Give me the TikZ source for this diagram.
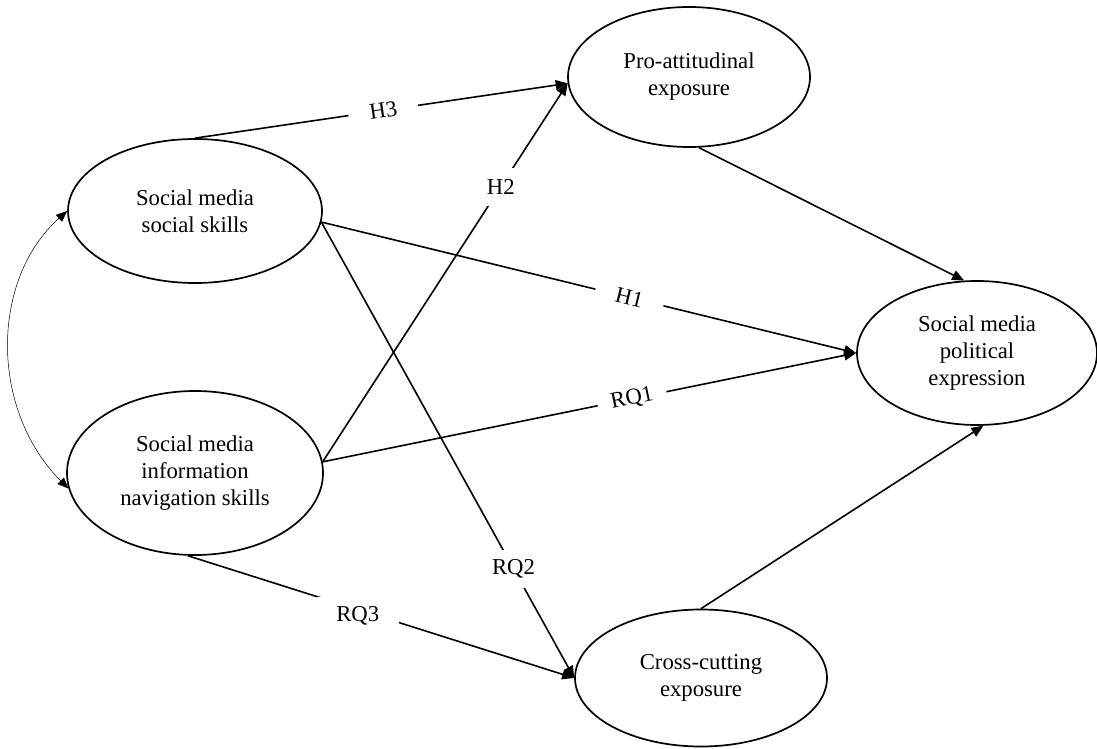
\documentclass[tikz,border=0pt]{standalone}
\usepackage{fontspec}
\setmainfont{Liberation Serif}
\usetikzlibrary{shapes.geometric,arrows.meta}
\begin{document}
\begin{tikzpicture}[x=1pt,y=-1pt,
  construct/.style={draw, ellipse, line width=1.7pt, inner sep=0pt, align=center,
    font=\fontsize{22.7}{27}\selectfont},
  conn/.style={line width=1.6pt, -{Triangle[length=12pt,width=10pt]}},
  biarrow/.style={line width=0.5pt, {Triangle[length=11pt,width=9pt]}-{Triangle[length=11pt,width=9pt]}},
  lab/.style={fill=white, inner sep=0pt, minimum width=70pt, minimum height=38pt,
    font=\fontsize{22.7}{27}\selectfont},
]
\fill[white] (0,0) rectangle (1097,749);
\useasboundingbox (0,0) rectangle (1097,749);

\node[construct, minimum width=254pt, minimum height=144pt] (ss) at (195,211) {Social media\\social skills};
\node[construct, minimum width=256pt, minimum height=164pt] (nav) at (195,473) {Social media\\information\\navigation skills};
\node[construct, minimum width=242pt, minimum height=140pt] (pro) at (689,77) {Pro-attitudinal\\exposure};
\node[construct, minimum width=240pt, minimum height=144pt] (exp) at (977,353) {Social media\\political\\expression};
\node[construct, minimum width=252pt, minimum height=137pt] (cc) at (701,678) {Cross-cutting\\exposure};

\draw[conn] (ss.north) -- node[lab, sloped, pos=0.505] {H3} (pro.183);
\draw[conn] (ss.-5) -- node[lab, sloped, pos=0.576] {H1} (exp.west);
\draw[conn] (ss.-5) -- node[lab, pos=0.76] {RQ2} (cc.west);
\draw[conn] (nav.5) -- node[lab, pos=0.727] {H2} (pro.183);
\draw[conn] (nav.5) -- node[lab, sloped, pos=0.58] {RQ1} (exp.west);
\draw[conn] (nav.-95) -- node[lab, pos=0.44, yshift=-6pt, minimum width=82pt] {RQ3} (cc.west);
\draw[conn] (pro.-82) -- (exp.100);
\draw[conn] (cc.north) -- (exp.-85);
\draw[biarrow] (ss.west) .. controls (-10,280) and (-10,410) .. (nav.-173);
\end{tikzpicture}
\end{document}
